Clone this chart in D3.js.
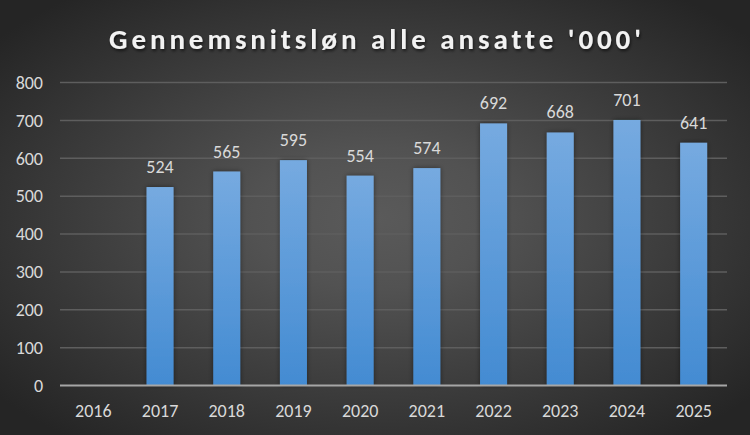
<!DOCTYPE html>
<html><head><meta charset="utf-8">
<script src="https://cdn.jsdelivr.net/npm/d3@7"></script>
<style>html,body{margin:0;padding:0;background:#2a2a2a;}svg{display:block;}text{font-variant-ligatures:none;font-feature-settings:"liga" 0;}</style>
</head><body>
<svg id="c" width="750" height="435"></svg>
<script>
const title = "Gennemsnitsløn alle ansatte '000'";
const years = ["2016","2017","2018","2019","2020","2021","2022","2023","2024","2025"];
const values = [null,524,565,595,554,574,692,668,701,641];
const yTicks = [0,100,200,300,400,500,600,700,800];

const W=750,H=435;
const m={left:60,right:23,top:82.5,bottom:49.5};
const svg=d3.select("#c");
const defs=svg.append("defs");
const rg=defs.append("radialGradient").attr("id","bg").attr("cx","50%").attr("cy","50%").attr("r","65%");
rg.append("stop").attr("offset","0%").attr("stop-color","#5a5a5a");
rg.append("stop").attr("offset","25%").attr("stop-color","#525252");
rg.append("stop").attr("offset","100%").attr("stop-color","#252525");
const lg=defs.append("linearGradient").attr("id","bar").attr("x1",0).attr("y1",0).attr("x2",0).attr("y2",1);
lg.append("stop").attr("offset","0%").attr("stop-color","#76aae0");
lg.append("stop").attr("offset","100%").attr("stop-color","#438bd2");
const sh=defs.append("filter").attr("id","ts").attr("x","-10%").attr("y","-30%").attr("width","120%").attr("height","160%");
sh.append("feDropShadow").attr("dx",1).attr("dy",2).attr("stdDeviation",1.5).attr("flood-color","#000").attr("flood-opacity",0.6);
const bs=defs.append("filter").attr("id","bs").attr("x","-30%").attr("y","-10%").attr("width","160%").attr("height","120%");
bs.append("feDropShadow").attr("dx",0).attr("dy",0).attr("stdDeviation",2.5).attr("flood-color","#000").attr("flood-opacity",0.45);

svg.append("rect").attr("width",W).attr("height",H).attr("fill","url(#bg)");

const x=d3.scaleBand().domain(years).range([m.left,W-m.right]).paddingInner(0.595).paddingOuter(0.2975);
const y=d3.scaleLinear().domain([0,800]).range([H-m.bottom,m.top]);

// grid
svg.append("g").selectAll("line").data(yTicks.filter(d=>d>0)).join("line")
  .attr("x1",m.left).attr("x2",W-m.right).attr("y1",d=>y(d)).attr("y2",d=>y(d))
  .attr("stroke","#5e5e5e").attr("stroke-width",1.5);

const font="Carlito, 'Open Sans', 'Noto Sans', sans-serif";
// y labels
svg.append("g").selectAll("text").data(yTicks).join("text")
  .attr("x",43).attr("y",d=>y(d)).attr("dy","0.35em").attr("text-anchor","end")
  .attr("fill","#d9d9d9").style("font-family",font).style("font-size","18px")
  .text(d=>d);

// bars
const data=years.map((yr,i)=>({yr,v:values[i]})).filter(d=>d.v!=null);
svg.append("g").selectAll("rect").data(data).join("rect")
  .attr("x",d=>x(d.yr)).attr("width",x.bandwidth())
  .attr("y",d=>y(d.v)).attr("height",d=>y(0)-y(d.v))
  .attr("fill","url(#bar)").attr("filter","url(#bs)");

// baseline
svg.append("line").attr("x1",m.left).attr("x2",W-m.right).attr("y1",y(0)).attr("y2",y(0))
  .attr("stroke","#a6a6a6").attr("stroke-width",2);

// data labels
svg.append("g").selectAll("text").data(data).join("text")
  .attr("x",d=>x(d.yr)+x.bandwidth()/2).attr("y",d=>y(d.v)-14)
  .attr("text-anchor","middle").attr("fill","#d9d9d9")
  .style("font-family",font).style("font-size","18px").text(d=>d.v);

// x labels
svg.append("g").selectAll("text").data(years).join("text")
  .attr("x",d=>x(d)+x.bandwidth()/2).attr("y",417)
  .attr("text-anchor","middle").attr("fill","#d9d9d9")
  .style("font-family",font).style("font-size","18px").text(d=>d);

// title
svg.append("text").attr("x",W/2).attr("y",49).attr("text-anchor","middle")
  .attr("fill","#f2f2f2").attr("filter","url(#ts)")
  .style("font-family",font).style("font-size","29px").style("font-weight","bold")
  .attr("textLength",532).attr("lengthAdjust","spacing")
  .text(title);
</script>
</body></html>
